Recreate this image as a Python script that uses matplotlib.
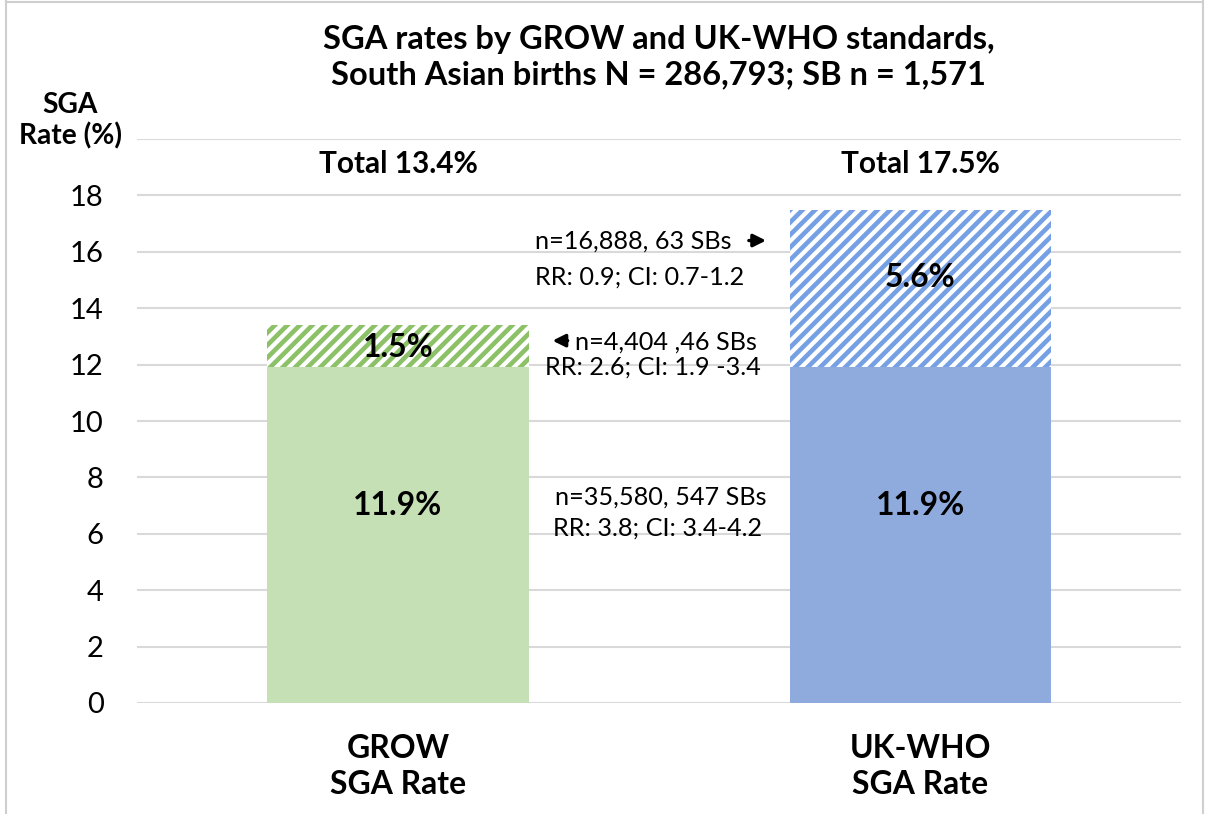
import matplotlib.pyplot as plt
from matplotlib.lines import Line2D

plt.rcParams['font.family'] = ['Lato', 'DejaVu Sans']
plt.rcParams['hatch.linewidth'] = 2.2

# data
categories = ['GROW\nSGA Rate', 'UK-WHO\nSGA Rate']
common = [11.9, 11.9]          # SGA by both standards
extra = [1.5, 5.6]             # SGA by only this standard
totals = ['Total 13.4%', 'Total 17.5%']
common_labels = ['11.9%', '11.9%']
extra_labels = ['1.5%', '5.6%']

solid_colors = ['#c5e0b4', '#8faadc']
hatch_colors = ['#8cc168', '#76a0e4']

DPI = 150
fig = plt.figure(figsize=(1208 / DPI, 814 / DPI), dpi=DPI)
ax = fig.add_axes([0.1134, 0.1364, 0.8643, 0.6928])

x = [0, 1]
ax.bar(x, common, width=0.5, color=solid_colors, linewidth=0, zorder=2)
for i in x:
    ax.bar(i, extra[i], bottom=common[i], width=0.5, facecolor='white',
           edgecolor=hatch_colors[i], hatch='////', linewidth=0, zorder=2)

ax.set_xlim(-0.5, 1.5)
ax.set_ylim(0, 20)
ax.set_yticks(range(0, 21, 2), labels=[str(v) for v in range(0, 19, 2)] + [''])
ax.set_xticks(x, labels=categories)
ax.tick_params(axis='y', length=0, pad=16, labelsize=14)
ax.tick_params(axis='x', length=0, pad=15, labelsize=15.3)
for lab in ax.get_xticklabels():
    lab.set_fontweight('bold')
    lab.set_linespacing(1.3)
ax.grid(axis='y', color='#d9d9d9', linewidth=1.0, zorder=0)
for s in ax.spines.values():
    s.set_visible(False)

# bar labels
bl = 15.3
ax.text(0, 7.0, common_labels[0], ha='center', va='center', fontsize=bl, fontweight='bold', zorder=3)
ax.text(1, 7.0, common_labels[1], ha='center', va='center', fontsize=bl, fontweight='bold', zorder=3)
ax.text(0, 12.6, extra_labels[0], ha='center', va='center', fontsize=bl, fontweight='bold', zorder=3)
ax.text(1, 15.1, extra_labels[1], ha='center', va='center', fontsize=bl, fontweight='bold', zorder=3)
for i in x:
    ax.text(i, 19.1, totals[i], ha='center', va='center', fontsize=14.3, fontweight='bold')

# middle annotations
fs = 12.1
ax.text(0.262, 16.37, 'n=16,888, 63 SBs', ha='left', va='center', fontsize=fs)
ax.text(0.262, 15.12, 'RR: 0.9; CI: 0.7-1.2', ha='left', va='center', fontsize=fs)
ax.text(0.34, 12.8, 'n=4,404 ,46 SBs', ha='left', va='center', fontsize=fs)
ax.text(0.282, 11.9, 'RR: 2.6; CI: 1.9 -3.4', ha='left', va='center', fontsize=fs)
ax.text(0.301, 7.3, 'n=35,580, 547 SBs', ha='left', va='center', fontsize=fs)
ax.text(0.297, 6.2, 'RR: 3.8; CI: 3.4-4.2', ha='left', va='center', fontsize=fs)

arrow = dict(arrowstyle='-|>,head_length=0.5,head_width=0.25', color='black', lw=1.6,
             shrinkA=0, shrinkB=0)
ax.annotate('', xy=(0.705, 16.4), xytext=(0.672, 16.4), arrowprops=arrow)
ax.annotate('', xy=(0.296, 12.85), xytext=(0.325, 12.85), arrowprops=arrow)

# titles
fig.text(0.545, 0.951, 'SGA rates by GROW and UK-WHO standards,', ha='center', va='center',
         fontsize=15.7, fontweight='bold')
fig.text(0.545, 0.908, 'South Asian births N = 286,793; SB n = 1,571', ha='center', va='center',
         fontsize=15.7, fontweight='bold')
fig.text(0.058, 0.871, 'SGA', ha='center', va='center', fontsize=13.5, fontweight='bold')
fig.text(0.058, 0.833, 'Rate (%)', ha='center', va='center', fontsize=13.5, fontweight='bold')

# outer frame
for xs, ys in [([0.005, 0.005], [0, 1]), ([0.996, 0.996], [0, 1]), ([0.005, 0.996], [0.998, 0.998])]:
    fig.add_artist(Line2D(xs, ys, color='#cfcfcf', linewidth=1.0))

fig.savefig('out.png', dpi=DPI)
